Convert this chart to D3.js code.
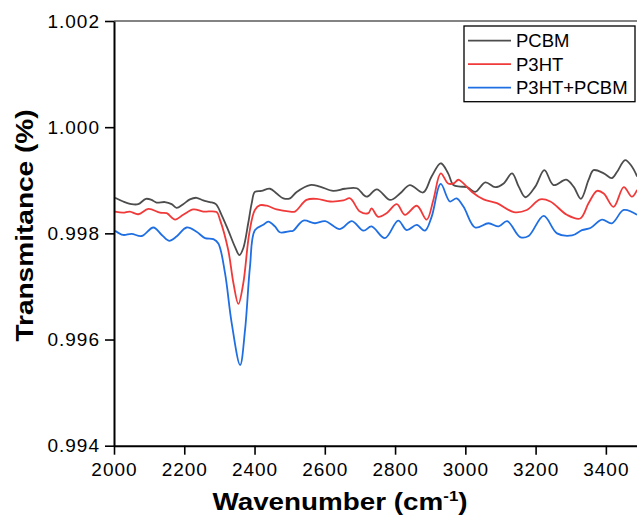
<!DOCTYPE html>
<html>
<head>
<meta charset="utf-8">
<script src="https://cdn.jsdelivr.net/npm/d3@7"></script>
<style>
  body { margin: 0; background: #fff; }
  text { font-family: Arial, "Liberation Sans", sans-serif; fill: #000; }
</style>
</head>
<body>
<div id="chart"></div>
<script>
// data: [wavenumber, transmittance]
var pcbm = [
  [2003,0.99867],[2026,0.99860],[2050,0.99855],[2069,0.99855],[2091,0.99865],[2107,0.99863],
  [2121,0.99858],[2145,0.99859],[2164,0.99855],[2178,0.99848],[2197,0.99855],[2216,0.99864],
  [2235,0.99867],[2254,0.99862],[2273,0.99859],[2290,0.99855],[2306,0.99835],[2325,0.99806],
  [2344,0.99775],[2357,0.99759],[2368,0.99772],[2382,0.99819],[2392,0.99857],[2401,0.99878],
  [2420,0.99880],[2444,0.99884],[2463,0.99875],[2482,0.99866],[2501,0.99866],[2520,0.99878],
  [2558,0.99891],[2586,0.99888],[2624,0.99880],[2657,0.99884],[2691,0.99885],[2719,0.99869],
  [2748,0.99883],[2786,0.99863],[2814,0.99875],[2842,0.99891],[2880,0.99877],[2904,0.99907],
  [2930,0.99932],[2951,0.99913],[2966,0.99891],[2985,0.99888],[3005,0.99887],[3028,0.99878],
  [3057,0.99896],[3085,0.99887],[3109,0.99894],[3133,0.99913],[3152,0.99888],[3171,0.99868],
  [3199,0.99888],[3225,0.99919],[3251,0.99891],[3287,0.99901],[3308,0.99888],[3329,0.99865],
  [3351,0.99901],[3365,0.99919],[3394,0.99913],[3417,0.99904],[3432,0.99916],[3455,0.99938],
  [3474,0.99926],[3489,0.99907]
];
var p3ht = [
  [2003,0.99841],[2026,0.99839],[2045,0.99841],[2069,0.99836],[2098,0.99846],[2131,0.99839],
  [2150,0.99838],[2174,0.99826],[2197,0.99835],[2226,0.99845],[2254,0.99841],[2292,0.99840],
  [2302,0.99825],[2325,0.99769],[2340,0.99706],[2354,0.99667],[2368,0.99706],[2385,0.99800],
  [2401,0.99844],[2416,0.99853],[2435,0.99852],[2463,0.99845],[2501,0.99841],[2515,0.99841],
  [2548,0.99863],[2577,0.99865],[2615,0.99860],[2653,0.99862],[2672,0.99866],[2700,0.99841],
  [2724,0.99838],[2733,0.99847],[2752,0.99831],[2776,0.99838],[2805,0.99855],[2828,0.99835],
  [2862,0.99852],[2890,0.99826],[2909,0.99863],[2930,0.99913],[2951,0.99894],[2966,0.99894],
  [2980,0.99901],[2990,0.99897],[3019,0.99878],[3052,0.99864],[3090,0.99857],[3138,0.99840],
  [3175,0.99844],[3213,0.99864],[3242,0.99860],[3289,0.99835],[3327,0.99828],[3351,0.99857],
  [3375,0.99880],[3394,0.99875],[3422,0.99850],[3451,0.99887],[3474,0.99869],[3489,0.99882]
];
var blend = [
  [2003,0.99805],[2026,0.99797],[2050,0.99799],[2079,0.99795],[2112,0.99811],[2136,0.99797],
  [2157,0.99786],[2178,0.99794],[2207,0.99811],[2235,0.99803],[2259,0.99791],[2283,0.99789],
  [2297,0.99781],[2316,0.99725],[2335,0.99631],[2359,0.99552],[2373,0.99618],[2387,0.99737],
  [2401,0.99806],[2425,0.99816],[2439,0.99822],[2458,0.99813],[2472,0.99802],[2501,0.99804],
  [2510,0.99805],[2539,0.99824],[2572,0.99819],[2601,0.99823],[2643,0.99808],[2677,0.99823],
  [2710,0.99805],[2733,0.99813],[2771,0.99791],[2809,0.99824],[2833,0.99806],[2862,0.99816],
  [2885,0.99805],[2904,0.99831],[2930,0.99893],[2956,0.99860],[2975,0.99866],[2995,0.99850],
  [3028,0.99811],[3066,0.99819],[3095,0.99813],[3119,0.99823],[3156,0.99793],[3180,0.99795],
  [3223,0.99833],[3261,0.99800],[3304,0.99796],[3332,0.99806],[3356,0.99810],[3389,0.99826],
  [3417,0.99819],[3451,0.99844],[3489,0.99835]
];
var seriesNames = ['PCBM', 'P3HT', 'P3HT+PCBM'];
var seriesColors = ['#4d4d4d', '#f03a3a', '#1f6fe3'];
var xTicks = [2000, 2200, 2400, 2600, 2800, 3000, 3200, 3400];
var xMinor = [2100, 2300, 2500, 2700, 2900, 3100, 3300, 3500];
var yTicks = [0.994, 0.996, 0.998, 1.000, 1.002];
var yMinor = [0.995, 0.997, 0.999, 1.001];

var W = 637, H = 518;
var x = d3.scaleLinear().domain([2000, 3500]).range([114, 641]);
var y = d3.scaleLinear().domain([0.994, 1.002]).range([445.7, 21]);

var svg = d3.select('#chart').append('svg')
    .attr('width', W).attr('height', H);

svg.append('defs').append('clipPath').attr('id', 'plot')
   .append('rect').attr('x', 114).attr('y', 21).attr('width', 530).attr('height', 425);

// top frame
svg.append('line')
   .attr('x1', 114).attr('x2', W).attr('y1', 21).attr('y2', 21)
   .style('stroke', '#5a5a5a').style('stroke-width', 1.5);

var line = d3.line()
    .x(d => x(d[0]))
    .y(d => y(d[1]))
    .curve(d3.curveCatmullRom.alpha(0.5));

var lines = svg.append('g').attr('clip-path', 'url(#plot)');
[pcbm, p3ht, blend].forEach((s, i) => {
    lines.append('path')
        .attr('d', line(s))
        .style('fill', 'none')
        .style('stroke', seriesColors[i])
        .style('stroke-width', 1.8)
        .style('stroke-linejoin', 'round');
});

// axes
var xAxis = d3.axisBottom(x).tickValues(xTicks).tickFormat(d3.format('d'))
    .tickSize(9).tickSizeOuter(0).tickPadding(7.5);
var xAxisMinor = d3.axisBottom(x).tickValues(xMinor).tickFormat('').tickSize(5).tickSizeOuter(0);
var yAxis = d3.axisLeft(y).tickValues(yTicks).tickFormat(d3.format('.3f'))
    .tickSize(9).tickSizeOuter(0).tickPadding(5);
var yAxisMinor = d3.axisLeft(y).tickValues(yMinor).tickFormat('').tickSize(5).tickSizeOuter(0);

var gx = svg.append('g').attr('transform', 'translate(0,445.7)');
gx.call(xAxisMinor);
gx.call(xAxis);
var gy = svg.append('g').attr('transform', 'translate(114,0)');
gy.call(yAxisMinor);
gy.call(yAxis);

svg.selectAll('.domain').style('stroke', '#000').style('stroke-width', 2);
svg.selectAll('.tick line').style('stroke', '#000').style('stroke-width', 1.6);
svg.selectAll('.tick text')
   .style('font-size', '19px')
   .style('letter-spacing', '1px')
   .style('font-family', 'Arial, "Liberation Sans", sans-serif')
   .attr('fill', '#000');

// axis titles
var xt = svg.append('text')
    .attr('transform', 'translate(340,510) scale(1.21,1)')
    .attr('text-anchor', 'middle')
    .style('font-size', '23px').style('font-weight', 'bold');
xt.append('tspan').text('Wavenumber (cm');
xt.append('tspan').attr('dy', -9).style('font-size', '14px').text('-1');
xt.append('tspan').attr('dy', 9).text(')');

svg.append('text')
   .attr('transform', 'translate(33.3,225.5) rotate(-90) scale(1.22,1)')
   .attr('text-anchor', 'middle')
   .style('font-size', '23px').style('font-weight', 'bold')
   .text('Transmitance (%)');

// legend
var legend = svg.append('g');
legend.append('rect')
   .attr('x', 464).attr('y', 26).attr('width', 171).attr('height', 75.7)
   .style('fill', '#fff').style('stroke', '#000').style('stroke-width', 1.3);
seriesNames.forEach((name, i) => {
    var ly = 40.7 + i * 23.5;
    legend.append('line')
        .attr('x1', 468).attr('x2', 511).attr('y1', ly).attr('y2', ly)
        .style('stroke', seriesColors[i]).style('stroke-width', 1.8);
    legend.append('text')
        .attr('x', 516).attr('y', ly).attr('dy', '0.36em')
        .style('font-size', '18.5px')
        .text(name);
});
</script>
</body>
</html>
